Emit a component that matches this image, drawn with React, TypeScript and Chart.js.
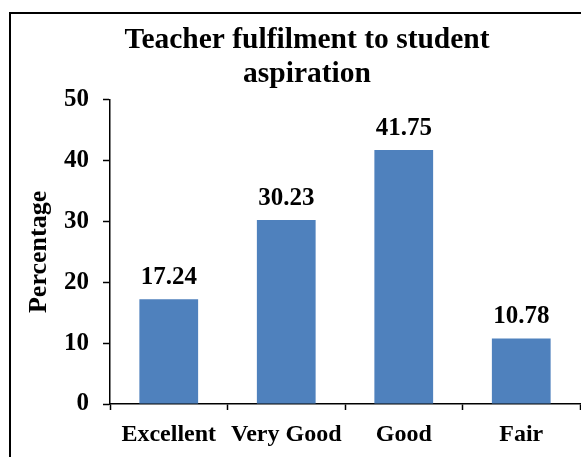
import React, { useEffect, useRef } from "react";
import { Chart, registerables } from "chart.js";
Chart.register(...registerables);

const categories = ["Excellent", "Very Good", "Good", "Fair"];
const percentages = [17.24, 30.23, 41.75, 10.78];
const yTicks = [0, 10, 20, 30, 40, 50];
const titleLines = ["Teacher fulfilment to student", "aspiration"];
const yAxisTitle = "Percentage";

const FONT = "'Liberation Serif', 'Times New Roman', serif";

export default function App() {
  const ref = useRef<HTMLCanvasElement>(null);
  useEffect(() => {
    const labelPlugin = {
      id: "valueLabels",
      afterDatasetsDraw(chart: any) {
        const ctx = chart.ctx;
        const meta = chart.getDatasetMeta(0);
        ctx.save();
        ctx.font = `bold 25px ${FONT}`;
        ctx.fillStyle = "#000";
        ctx.textAlign = "center";
        ctx.textBaseline = "alphabetic";
        meta.data.forEach((bar: any, i: number) => {
          ctx.fillText(percentages[i].toFixed(2), bar.x, bar.y - 15);
        });
        ctx.restore();
      },
    };
    const chart = new Chart(ref.current as HTMLCanvasElement, {
      type: "bar",
      data: {
        labels: categories,
        datasets: [
          {
            data: percentages,
            backgroundColor: "#4F81BD",
            barPercentage: 0.5,
            categoryPercentage: 1,
          },
        ],
      },
      options: {
        animation: false,
        responsive: false,
        layout: { padding: { left: 34, right: 1, top: 0, bottom: 0 } },
        plugins: {
          legend: { display: false },
          tooltip: { enabled: false },
          title: {
            display: true,
            text: titleLines,
            color: "#000",
            font: { family: FONT, size: 29.5, weight: "bold", lineHeight: 1.15 },
            padding: { top: 23, bottom: 9 },
          },
        },
        scales: {
          x: {
            grid: {
              offset: true,
              drawOnChartArea: false,
              tickLength: 6,
              color: "#000",
              tickWidth: 1.5,
            },
            border: { color: "#000", width: 1.5 },
            ticks: {
              color: "#000",
              font: { family: FONT, size: 24, weight: "bold" },
              padding: 10,
              maxRotation: 0,
              autoSkip: false,
            },
            afterFit(s: any) {
              s.height = 53;
            },
          },
          y: {
            min: 0,
            max: 50,
            afterBuildTicks(s: any) {
              s.ticks = yTicks.map((v) => ({ value: v }));
            },
            grid: {
              drawOnChartArea: false,
              tickLength: 7,
              color: "#000",
              tickWidth: 1.5,
            },
            border: { color: "#000", width: 1.5 },
            ticks: {
              color: "#000",
              font: { family: FONT, size: 25, weight: "bold" },
              padding: 14,
            },
            title: {
              display: true,
              text: yAxisTitle,
              color: "#000",
              font: { family: FONT, size: 26, weight: "bold", lineHeight: 1.2 },
              padding: { top: -10, bottom: 0 },
            },
            afterFit(s: any) {
              s.width = 76;
            },
          },
        },
      },
      plugins: [labelPlugin],
    });
    return () => chart.destroy();
  }, []);
  return (
    <div
      style={{
        position: "absolute",
        left: 0,
        top: 0,
        width: 581,
        height: 457,
        overflow: "hidden",
        background: "#fff",
      }}
    >
      <div
        style={{
          position: "absolute",
          left: 9,
          top: 12,
          width: 600,
          height: 480,
          borderLeft: "2px solid #000",
          borderTop: "2px solid #000",
        }}
      />
      <canvas
        ref={ref}
        width={581}
        height={457}
        style={{ position: "absolute", left: 0, top: 0, width: 581, height: 457 }}
      />
    </div>
  );
}
